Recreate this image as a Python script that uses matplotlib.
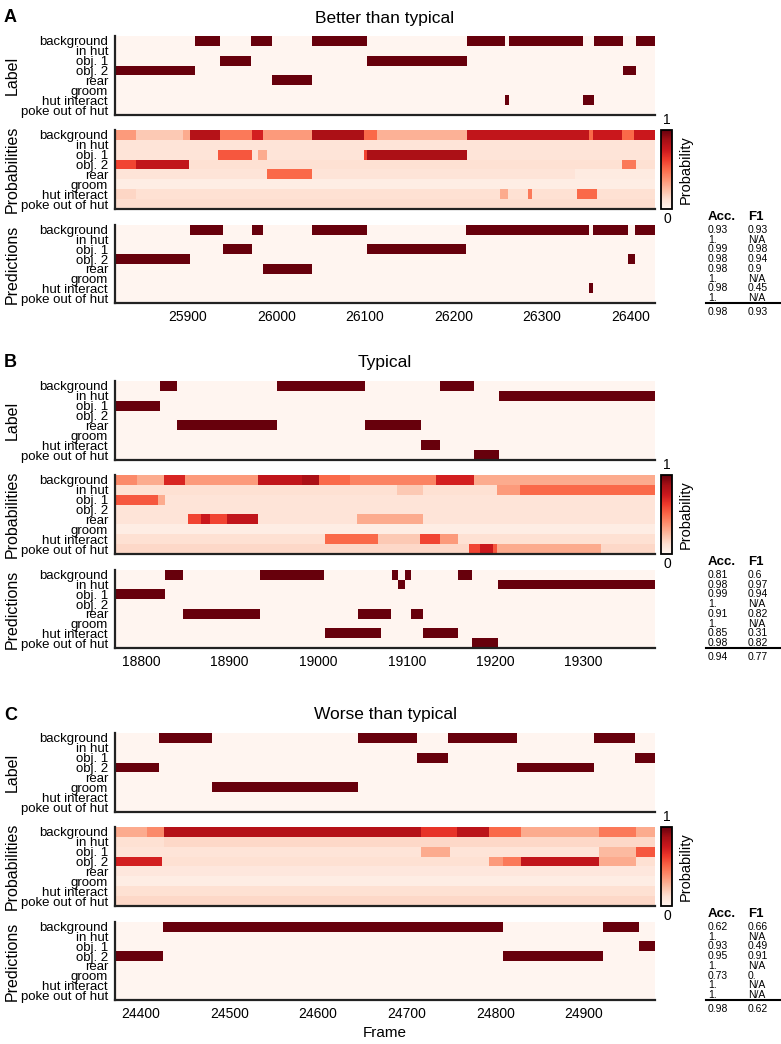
import numpy as np
import matplotlib
matplotlib.use('Agg')
import matplotlib.pyplot as plt

plt.rcParams['font.family'] = ['Liberation Sans', 'DejaVu Sans']

behaviours = ['background', 'in hut', 'obj. 1', 'obj. 2', 'rear', 'groom',
              'hut interact', 'poke out of hut']
n_frames = 610

# ---------------- panel A : better than typical ----------------
a_start = 25818
a_label = {
    'background': [(25908, 25937), (25972, 25995), (26041, 26103), (26216, 26258),
                   (26263, 26347), (26359, 26392), (26406, 26428)],
    'obj. 1': [(25937, 25972), (26103, 26216)],
    'obj. 2': [(25818, 25908), (26392, 26406)],
    'rear': [(25995, 26041)],
    'hut interact': [(26258, 26263), (26347, 26359)],
}
a_pred = {
    'background': [(25903, 25940), (25973, 25985), (26041, 26103), (26214, 26353),
                   (26358, 26398), (26405, 26428)],
    'obj. 1': [(25940, 25973), (26103, 26214)],
    'obj. 2': [(25818, 25903), (26398, 26405)],
    'rear': [(25985, 26041)],
    'hut interact': [(26353, 26358)],
}
a_prob_base = [0.3, 0.1, 0.1, 0.12, 0.1, 0.05, 0.12, 0.13]
a_prob = {
    'background': [(25818, 25842, 0.35), (25842, 25895, 0.2), (25895, 25903, 0.3),
                   (25903, 25937, 0.82), (25937, 25973, 0.45), (25973, 25985, 0.72),
                   (25985, 26041, 0.35), (26041, 26099, 0.85), (26099, 26114, 0.5),
                   (26114, 26216, 0.28), (26216, 26353, 0.78), (26353, 26358, 0.5),
                   (26358, 26391, 0.75), (26391, 26404, 0.5), (26404, 26428, 0.75)],
    'obj. 1': [(25934, 25973, 0.55), (25980, 25990, 0.3), (26099, 26103, 0.6),
               (26103, 26216, 0.85)],
    'obj. 2': [(25818, 25842, 0.6), (25842, 25902, 0.78), (26391, 26406, 0.45)],
    'rear': [(25990, 26041, 0.5), (26338, 26428, 0.06)],
    'hut interact': [(25818, 25842, 0.16), (26253, 26262, 0.3), (26284, 26289, 0.45),
                     (26340, 26362, 0.5)],
}
a_acc = ['0.93', '1.', '0.99', '0.98', '0.98', '1.', '0.98', '1.']
a_f1 = ['0.93', 'N/A', '0.98', '0.94', '0.9', 'N/A', '0.45', 'N/A']
a_total = ('0.98', '0.93')

# ---------------- panel B : typical ----------------
b_start = 18771
b_label = {
    'background': [(18822, 18841), (18954, 19053), (19138, 19176)],
    'in hut': [(19205, 19381)],
    'obj. 1': [(18771, 18822)],
    'rear': [(18841, 18954), (19053, 19117)],
    'hut interact': [(19117, 19138)],
    'poke out of hut': [(19176, 19205)],
}
b_pred = {
    'background': [(18828, 18848), (18935, 19007), (19084, 19091), (19099, 19105),
                   (19158, 19174)],
    'in hut': [(19091, 19099), (19204, 19381)],
    'obj. 1': [(18771, 18828)],
    'rear': [(18848, 18935), (19045, 19083), (19105, 19119)],
    'hut interact': [(19008, 19072), (19119, 19158)],
    'poke out of hut': [(19174, 19204)],
}
b_prob_base = [0.3, 0.12, 0.1, 0.1, 0.1, 0.05, 0.12, 0.15]
b_prob = {
    'background': [(18771, 18796, 0.4), (18796, 18826, 0.3), (18826, 18850, 0.7),
                   (18850, 18933, 0.35), (18933, 18982, 0.78), (18982, 19002, 0.85),
                   (19002, 19037, 0.5), (19037, 19134, 0.42), (19134, 19177, 0.72)],
    'in hut': [(19090, 19119, 0.2), (19203, 19228, 0.35), (19228, 19381, 0.5)],
    'obj. 1': [(18771, 18820, 0.55), (18820, 18828, 0.3)],
    'rear': [(18854, 18868, 0.6), (18868, 18878, 0.75), (18878, 18898, 0.6),
             (18898, 18933, 0.78), (19044, 19119, 0.3)],
    'hut interact': [(19008, 19068, 0.5), (19068, 19115, 0.2), (19115, 19138, 0.6),
                     (19138, 19158, 0.35)],
    'poke out of hut': [(19171, 19183, 0.6), (19183, 19198, 0.75), (19198, 19203, 0.55),
                        (19203, 19320, 0.3)],
}
b_acc = ['0.81', '0.98', '0.99', '1.', '0.91', '1.', '0.85', '0.98']
b_f1 = ['0.6', '0.97', '0.94', 'N/A', '0.82', 'N/A', '0.31', '0.82']
b_total = ('0.94', '0.77')

# ---------------- panel C : worse than typical ----------------
c_start = 24371
c_label = {
    'background': [(24421, 24481), (24645, 24712), (24747, 24825), (24912, 24958)],
    'obj. 1': [(24712, 24747), (24958, 24981)],
    'obj. 2': [(24371, 24421), (24825, 24912)],
    'groom': [(24481, 24645)],
}
c_pred = {
    'background': [(24425, 24809), (24922, 24963)],
    'obj. 1': [(24963, 24981)],
    'obj. 2': [(24371, 24425), (24809, 24922)],
}
c_prob_base = [0.3, 0.12, 0.1, 0.12, 0.08, 0.05, 0.12, 0.15]
c_prob = {
    'background': [(24371, 24407, 0.3), (24407, 24426, 0.4), (24426, 24717, 0.82),
                   (24717, 24757, 0.65), (24757, 24793, 0.8), (24793, 24830, 0.5),
                   (24830, 24918, 0.3), (24918, 24959, 0.45)],
    'in hut': [(24426, 24981, 0.15)],
    'obj. 1': [(24717, 24749, 0.3), (24918, 24959, 0.25), (24959, 24981, 0.55)],
    'obj. 2': [(24371, 24424, 0.72), (24793, 24809, 0.35), (24809, 24830, 0.45),
               (24830, 24918, 0.78), (24918, 24959, 0.3)],
}
c_acc = ['0.62', '1.', '0.93', '0.95', '1.', '0.73', '1.', '1.']
c_f1 = ['0.66', 'N/A', '0.49', '0.91', 'N/A', '0.', 'N/A', 'N/A']
c_total = ('0.98', '0.62')

titles = ['Better than typical', 'Typical', 'Worse than typical']
letters = ['A', 'B', 'C']


def segments_to_matrix(start, segs, base=None):
    mat = np.zeros((len(behaviours), n_frames))
    if base is not None:
        mat += np.array(base)[:, None]
    for name, lst in segs.items():
        r = behaviours.index(name)
        for seg in lst:
            s, e = seg[0], seg[1]
            v = seg[2] if len(seg) > 2 else 1.0
            mat[r, max(s - start, 0):min(e - start, n_frames)] = v
    return mat


W, H = 781, 1044
fig = plt.figure(figsize=(W / 100, H / 100), dpi=100)


def box(x0, y0, x1, y1):
    return [x0 / W, 1 - y1 / H, (x1 - x0) / W, (y1 - y0) / H]


def draw_map(ax, mat, start, show_x):
    im = ax.imshow(mat, cmap='Reds', vmin=0, vmax=1, aspect='auto',
                   interpolation='nearest',
                   extent=[start - 0.5, start + n_frames - 0.5, 7.5, -0.5])
    ax.set_yticks(range(len(behaviours)))
    ax.set_yticklabels(behaviours, fontsize=9.5)
    ax.xaxis.set_major_locator(plt.MultipleLocator(100))
    ax.tick_params(length=0, pad=5)
    ax.tick_params(axis='x', labelsize=10, pad=5)
    if not show_x:
        ax.set_xticklabels([])
    for s in ['top', 'right']:
        ax.spines[s].set_visible(False)
    for s in ['left', 'bottom']:
        ax.spines[s].set_linewidth(1.6)
        ax.spines[s].set_color('#222222')
    return im


panels = [
    (a_start, a_label, a_prob_base, a_prob, a_pred, a_acc, a_f1, a_total),
    (b_start, b_label, b_prob_base, b_prob, b_pred, b_acc, b_f1, b_total),
    (c_start, c_label, c_prob_base, c_prob, c_pred, c_acc, c_f1, c_total),
]
tops = [36, 381, 733]
x0, x1 = 115, 655

for i, (start, lab, pbase, prob, pred, acc, f1, tot) in enumerate(panels):
    t = tops[i]
    y_lab = (t, t + 79)
    y_prob = (t + 94, t + 173)
    y_pred = (t + 189, t + 267)

    ax_l = fig.add_axes(box(x0, y_lab[0], x1, y_lab[1]))
    draw_map(ax_l, segments_to_matrix(start, lab), start, False)
    ax_p = fig.add_axes(box(x0, y_prob[0], x1, y_prob[1]))
    im = draw_map(ax_p, segments_to_matrix(start, prob, pbase), start, False)
    ax_d = fig.add_axes(box(x0, y_pred[0], x1, y_pred[1]))
    draw_map(ax_d, segments_to_matrix(start, pred), start, True)

    for name, (ya, yb) in zip(['Label', 'Probabilities', 'Predictions'],
                              [y_lab, y_prob, y_pred]):
        fig.text(12 / W, 1 - (ya + yb) / 2 / H, name, rotation=90,
                 ha='center', va='center', fontsize=11.5)

    fig.text(385 / W, 1 - (t - 18) / H, titles[i], ha='center', va='center',
             fontsize=12.5)
    fig.text(4 / W, 1 - (t - 18) / H, letters[i], ha='left', va='center',
             fontsize=13, fontweight='bold')

    # colorbar
    cax = fig.add_axes(box(661, y_prob[0], 672, y_prob[1]))
    cb = fig.colorbar(im, cax=cax)
    cb.set_ticks([])
    cb.outline.set_linewidth(1.3)
    fig.text(667 / W, 1 - (y_prob[0] - 10) / H, '1', ha='center', va='center',
             fontsize=10)
    fig.text(667 / W, 1 - (y_prob[1] + 10) / H, '0', ha='center', va='center',
             fontsize=10)
    fig.text(686 / W, 1 - (y_prob[0] + y_prob[1]) / 2 / H, 'Probability',
             rotation=90, ha='center', va='center', fontsize=10.5)

    # metrics table
    row_h = (y_pred[1] - y_pred[0]) / len(behaviours)
    fig.text(708 / W, 1 - (y_pred[0] - 8) / H, 'Acc.', ha='left', va='center',
             fontsize=9.5, fontweight='bold')
    fig.text(748 / W, 1 - (y_pred[0] - 8) / H, 'F1', ha='left', va='center',
             fontsize=9.5, fontweight='bold')
    for k in range(len(behaviours)):
        yy = 1 - (y_pred[0] + (k + 0.5) * row_h) / H
        fig.text(708 / W, yy, acc[k], ha='left', va='center', fontsize=7.5)
        fig.text(748 / W, yy, f1[k], ha='left', va='center', fontsize=7.5)
    fig.add_artist(plt.Line2D([706 / W, 1.0], [1 - y_pred[1] / H] * 2,
                              color='black', lw=1.5))
    fig.text(708 / W, 1 - (y_pred[1] + 9) / H, tot[0], ha='left', va='center',
             fontsize=7.5)
    fig.text(748 / W, 1 - (y_pred[1] + 9) / H, tot[1], ha='left', va='center',
             fontsize=7.5)

fig.text(385 / W, 1 - 1033 / H, 'Frame', ha='center', va='center', fontsize=11)

fig.savefig('out.png', dpi=100)
